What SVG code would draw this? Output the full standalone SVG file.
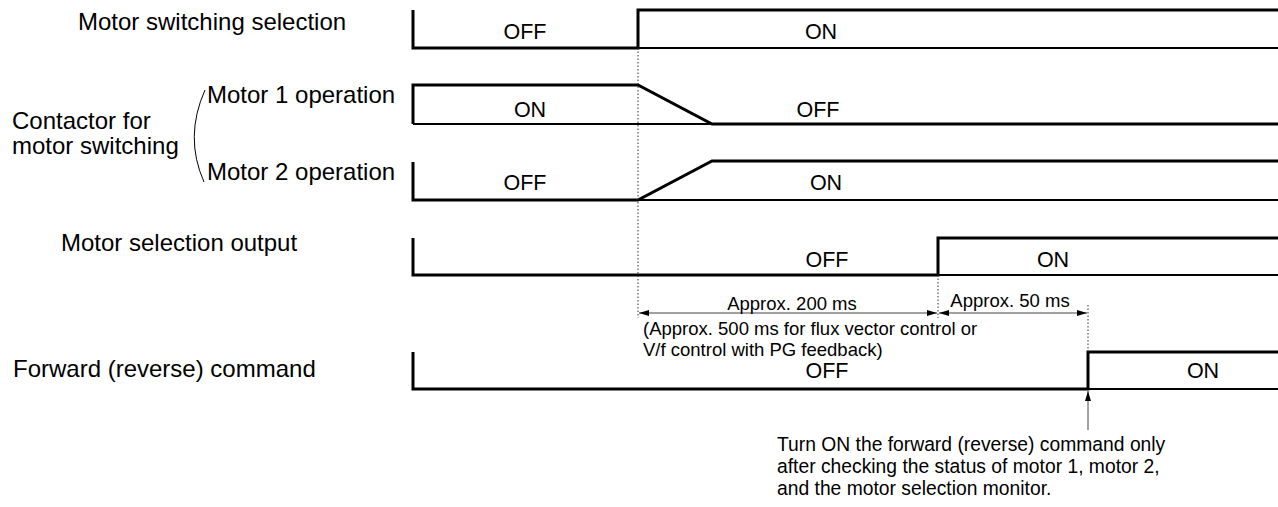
<svg xmlns="http://www.w3.org/2000/svg" width="1278" height="507" viewBox="0 0 1278 507">
<style>
text{font-family:"Liberation Sans",Arial,sans-serif;fill:#000}
.lbl{font-size:24px}
.st{font-size:21.5px;text-anchor:middle}
.dim{font-size:18.5px}
.note{font-size:19.3px}
.thick{fill:none;stroke:#000;stroke-width:3;stroke-linejoin:miter}
.thin{fill:none;stroke:#000;stroke-width:2}
.dot{fill:none;stroke:#333;stroke-width:1;stroke-dasharray:1.5,2}
.dl{fill:none;stroke:#444;stroke-width:1}
</style>
<defs>
<marker id="ah" viewBox="0 0 10 6" refX="10" refY="3" markerWidth="10" markerHeight="6" markerUnits="userSpaceOnUse" orient="auto-start-reverse">
<path d="M0,0 L10,3 L0,6 Z" fill="#000"/>
</marker>
</defs>
<rect width="1278" height="507" fill="#fff"/>

<g id="labels">
<text class="lbl" x="78" y="30">Motor switching selection</text>
<text class="lbl" x="12" y="129">Contactor for</text>
<text class="lbl" x="12" y="154">motor switching</text>
<path d="M205,90 Q184,137 204,182" fill="none" stroke="#000" stroke-width="1"/>
<text class="lbl" x="207" y="103">Motor 1 operation</text>
<text class="lbl" x="207" y="180">Motor 2 operation</text>
<text class="lbl" x="61" y="251">Motor selection output</text>
<text class="lbl" x="13" y="377">Forward (reverse) command</text>
</g>

<g id="row-motor-switching-selection">
<path class="thick" d="M413,10 V48 H638 V10 H1278"/>
<path class="thin" d="M638,48 H1278"/>
<text class="st" x="525" y="39">OFF</text>
<text class="st" x="821" y="39">ON</text>
</g>

<g id="row-motor1">
<path class="thick" d="M413,124 V85 H638 L712,124 H1278"/>
<path class="thin" d="M413,124 H712"/>
<text class="st" x="530" y="117">ON</text>
<text class="st" x="818" y="117">OFF</text>
</g>

<g id="row-motor2">
<path class="thick" d="M413,162 V200 H638 L712,161 H1278"/>
<path class="thin" d="M638,200 H1278"/>
<text class="st" x="525" y="190">OFF</text>
<text class="st" x="826" y="190">ON</text>
</g>

<g id="row-motor-selection-output">
<path class="thick" d="M413,238 V275 H938 V238 H1278"/>
<path class="thin" d="M938,275 H1278"/>
<text class="st" x="827" y="267">OFF</text>
<text class="st" x="1053" y="267">ON</text>
</g>

<g id="row-forward-command">
<path class="thick" d="M413,352 V389 H1088 V352 H1278"/>
<path class="thin" d="M1088,389 H1278"/>
<text class="st" x="827" y="378">OFF</text>
<text class="st" x="1203" y="378">ON</text>
</g>

<g id="connectors">
<path class="dot" d="M638,48 V318"/>
<path class="dot" d="M938,275 V318"/>
<path class="dot" d="M1088,305 V352"/>
<path class="dl" d="M639,313 H937" marker-start="url(#ah)" marker-end="url(#ah)"/>
<path class="dl" d="M939,313 H1087" marker-start="url(#ah)" marker-end="url(#ah)"/>
<path class="dl" d="M1088,430 V391" marker-end="url(#ah)"/>
</g>

<g id="dimension-labels">
<text class="dim" x="792" y="310" text-anchor="middle">Approx. 200 ms</text>
<text class="dim" x="1010" y="307" text-anchor="middle">Approx. 50 ms</text>
<text class="dim" x="643" y="335">(Approx. 500 ms for flux vector control or</text>
<text class="dim" x="643" y="356">V/f control with PG feedback)</text>
</g>

<g id="note">
<text class="note" x="777" y="451">Turn ON the forward (reverse) command only</text>
<text class="note" x="777" y="473">after checking the status of motor 1, motor 2,</text>
<text class="note" x="777" y="495">and the motor selection monitor.</text>
</g>
</svg>
